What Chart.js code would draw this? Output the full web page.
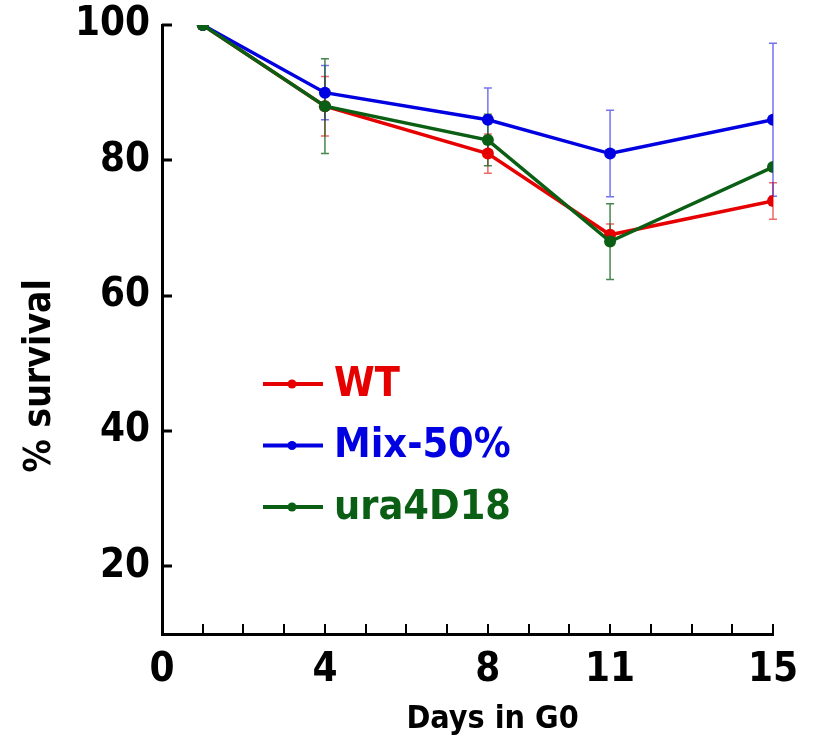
<!DOCTYPE html>
<html>
<head>
<meta charset="utf-8">
<script src="https://cdn.jsdelivr.net/npm/chart.js@4/dist/chart.umd.min.js"></script>
<style>
  html, body { margin: 0; padding: 0; background: #fff; }
  #wrap { width: 824px; height: 747px; }
</style>
</head>
<body>
<div id="wrap"><canvas id="survival" width="824" height="747"></canvas></div>
<script>
// data
const days = [1, 4, 8, 11, 15];
const wtValues = [100, 88, 81, 69, 74];
const wtErrors = [0, 4.4, 2.9, 1.6, 2.7];
const mixValues = [100, 90, 86, 81, 86];
const mixErrors = [0, 4, 4.7, 6.4, 11.3];
const uraValues = [100, 88, 83, 68, 79];
const uraErrors = [0, 7, 3.8, 5.6, 0];
const seriesNames = ["WT", "Mix-50%", "ura4D18"];
const xTickLabels = [0, 4, 8, 11, 15];
const xMinorTicks = [1, 2, 3, 4, 5, 6, 7, 8, 9, 10, 11, 12, 13, 14, 15];
const yTickLabels = [20, 40, 60, 80, 100];

const FONT = "'Liberation Sans Narrow', 'DejaVu Sans Condensed', 'Arial Narrow', sans-serif";
const colors = ["#e60000", "#0000e0", "#0a5f14"];
const errColors = ["rgba(230,0,0,0.6)", "rgba(0,0,224,0.55)", "rgba(10,95,20,0.75)"];
const NB = '\u00a0';

function toPoints(vals) {
    return days.map((d, i) => ({ x: d, y: vals[i] }))
}

// error bars, drawn before the lines
const errorBars = {
    id: 'errorBars',
    beforeDatasetsDraw(chart) {
        const ctx = chart.ctx
        const xs = chart.scales.x, ys = chart.scales.y
        chart.data.datasets.forEach((ds, k) => {
            ctx.save()
            ctx.strokeStyle = errColors[k]
            ctx.lineWidth = 1.5
            ds.errors.forEach((e, i) => {
                if (!e) return
                const px = xs.getPixelForValue(days[i])
                const top = ys.getPixelForValue(ds.data[i].y + e)
                const bot = ys.getPixelForValue(ds.data[i].y - e)
                ctx.beginPath()
                ctx.moveTo(px, top); ctx.lineTo(px, bot)
                ctx.moveTo(px - 4, top); ctx.lineTo(px + 4, top)
                ctx.moveTo(px - 4, bot); ctx.lineTo(px + 4, bot)
                ctx.stroke()
            })
            ctx.restore()
        })
    }
}

// inward tick marks and the legend inside the plot
const axisDecor = {
    id: 'axisDecor',
    afterDraw(chart) {
        const ctx = chart.ctx
        const xs = chart.scales.x, ys = chart.scales.y
        const area = chart.chartArea
        ctx.save()
        ctx.strokeStyle = '#000'
        ctx.lineWidth = 2
        ctx.beginPath()
        xMinorTicks.forEach(v => {
            const px = Math.round(xs.getPixelForValue(v))
            ctx.moveTo(px, area.bottom); ctx.lineTo(px, area.bottom - 10)
        })
        ctx.stroke()
        ctx.lineWidth = 3
        ctx.beginPath()
        yTickLabels.forEach(v => {
            const py = Math.round(ys.getPixelForValue(v))
            ctx.moveTo(area.left, py); ctx.lineTo(area.left + 10, py)
        })
        ctx.stroke()

        // legend
        const lx = area.left + 101, ly = area.top + 359
        seriesNames.forEach((name, k) => {
            const y = ly + k * 61.5
            ctx.strokeStyle = colors[k]
            ctx.fillStyle = colors[k]
            ctx.lineWidth = 4
            ctx.beginPath()
            ctx.moveTo(lx, y); ctx.lineTo(lx + 60, y)
            ctx.stroke()
            ctx.beginPath()
            ctx.arc(lx + 29, y, 4.5, 0, Math.PI * 2)
            ctx.fill()
            ctx.font = "bold 41px " + FONT
            ctx.textBaseline = 'middle'
            ctx.textAlign = 'left'
            ctx.fillText(name, lx + 71, y + 1)
        })
        ctx.restore()
    }
}

function makeSet(label, vals, errs, k, order) {
    return {
        label: label,
        data: toPoints(vals),
        errors: errs,
        borderColor: colors[k],
        backgroundColor: colors[k],
        pointBackgroundColor: colors[k],
        pointBorderColor: colors[k],
        borderWidth: 3.5,
        pointRadius: 6,
        pointBorderWidth: 0,
        tension: 0,
        order: order
    }
}

new Chart(document.getElementById("survival").getContext('2d'), {
    type: 'line',
    data: {
        datasets: [
            makeSet(seriesNames[0], wtValues, wtErrors, 0, 2),
            makeSet(seriesNames[1], mixValues, mixErrors, 1, 1),
            makeSet(seriesNames[2], uraValues, uraErrors, 2, 0)
        ]
    },
    options: {
        responsive: false,
        animation: false,
        layout: { padding: { top: 25, right: 51, left: 0, bottom: 0 } },
        plugins: {
            legend: { display: false },
            tooltip: { enabled: false }
        },
        scales: {
            x: {
                type: 'linear',
                min: 0,
                max: 15,
                afterBuildTicks: s => { s.ticks = xTickLabels.map(v => ({ value: v })) },
                afterFit: s => { s.height = 113; s.paddingLeft = 0; s.paddingRight = 0 },
                grid: { display: false, drawTicks: false },
                border: { display: true, color: '#000', width: 3 },
                ticks: {
                    color: '#000',
                    padding: 13,
                    maxRotation: 0,
                    autoSkip: false,
                    font: { family: FONT, size: 40, weight: 'bold' }
                },
                title: {
                    display: true,
                    text: NB.repeat(5) + 'Days in G0',
                    color: '#000',
                    padding: { top: 0, bottom: 8 },
                    font: { family: FONT, size: 32, weight: 'bold' }
                }
            },
            y: {
                min: 10,
                max: 100,
                afterBuildTicks: s => { s.ticks = yTickLabels.map(v => ({ value: v })) },
                afterFit: s => { s.width = 162; s.paddingTop = 0; s.paddingBottom = 0 },
                grid: { display: false, drawTicks: false },
                border: { display: true, color: '#000', width: 3 },
                ticks: {
                    color: '#000',
                    padding: 12,
                    font: { family: FONT, size: 40, weight: 'bold' }
                },
                title: {
                    display: true,
                    text: '% survival' + NB.repeat(8),
                    color: '#000',
                    padding: { top: 18, bottom: 0 },
                    font: { family: FONT, size: 37, weight: 'bold' }
                }
            }
        }
    },
    plugins: [errorBars, axisDecor]
});
</script>
</body>
</html>
